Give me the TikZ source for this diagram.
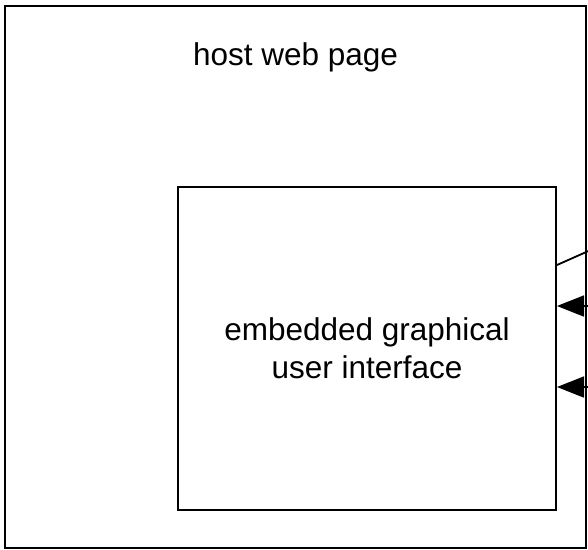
\documentclass[tikz,border=0pt]{standalone}
\usepackage{fontspec}
\setmainfont{Liberation Sans}
\usetikzlibrary{arrows.meta}
\begin{document}
\begin{tikzpicture}[x=1pt,y=-1pt,
  box/.style={draw,line width=2pt,rectangle,inner sep=0pt},
  lbl/.style={font=\fontsize{31.5}{38}\selectfont,align=center},
  arr/.style={line width=1.8pt,-{Triangle[length=27pt,width=21pt]}}]
  \useasboundingbox (0,0) rectangle (588,549);
  % outer page frame
  \node[box,minimum width=581pt,minimum height=542pt] (host) at (295.5,277) {};
  \node[lbl,anchor=base] (hostlbl) at (295.5,65) {host web page};
  % embedded widget
  \node[box,lbl,minimum width=378pt,minimum height=323pt] (emb) at (367,348.5)
    {embedded graphical\\user interface};
  % connectors coming in from the right
  \path (emb.north east) ++(0,79) coordinate (lstart);
  \coordinate (lend) at (620,237);
  \draw[line width=1.8pt] (lstart) -- (lend);
  \coordinate (a1) at (640,306);
  \coordinate (a2) at (640,387);
  \draw[arr] (a1) -- (emb.east |- a1);
  \draw[arr] (a2) -- (emb.east |- a2);
\end{tikzpicture}
\end{document}
